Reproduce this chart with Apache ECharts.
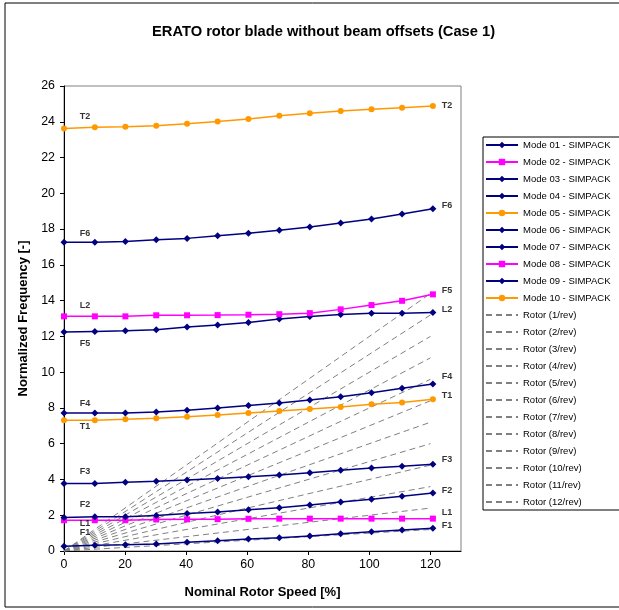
<!DOCTYPE html>
<html>
<head>
<meta charset="utf-8">
<script src="https://cdn.jsdelivr.net/npm/echarts@6/dist/echarts.min.js"></script>
<style>
html, body { margin: 0; padding: 0; background: #fff; }
#chart { width: 619px; height: 610px; }
</style>
</head>
<body>
<div id="chart"></div>
<script>
// nominal rotor speed [%] of each computed point
var speeds = [0, 10.1, 20.1, 30.2, 40.3, 50.3, 60.4, 70.5, 80.5, 90.6, 100.7, 110.7, 120.8];

// normalized frequencies, SIMPACK modes
var mode01 = [0.26, 0.32, 0.35, 0.39, 0.49, 0.58, 0.67, 0.74, 0.84, 0.97, 1.08, 1.17, 1.27];
var mode02 = [1.72, 1.72, 1.72, 1.76, 1.77, 1.78, 1.80, 1.81, 1.81, 1.81, 1.81, 1.81, 1.81];
var mode03 = [1.88, 1.92, 1.92, 1.99, 2.09, 2.18, 2.31, 2.42, 2.57, 2.74, 2.89, 3.06, 3.24];
var mode04 = [3.78, 3.78, 3.84, 3.90, 3.97, 4.06, 4.15, 4.25, 4.38, 4.51, 4.64, 4.74, 4.85];
var mode05 = [7.31, 7.31, 7.36, 7.42, 7.51, 7.60, 7.72, 7.83, 7.94, 8.05, 8.20, 8.31, 8.48];
var mode06 = [7.72, 7.72, 7.72, 7.77, 7.87, 8.00, 8.14, 8.28, 8.44, 8.63, 8.85, 9.10, 9.34];
var mode07 = [12.24, 12.28, 12.32, 12.37, 12.52, 12.64, 12.78, 12.97, 13.11, 13.23, 13.29, 13.29, 13.33];
var mode08 = [13.12, 13.12, 13.12, 13.18, 13.18, 13.19, 13.21, 13.24, 13.30, 13.51, 13.75, 13.99, 14.35];
var mode09 = [17.26, 17.26, 17.31, 17.41, 17.48, 17.63, 17.76, 17.93, 18.12, 18.34, 18.56, 18.84, 19.14];
var mode10 = [23.63, 23.69, 23.72, 23.78, 23.89, 24.02, 24.15, 24.34, 24.47, 24.60, 24.70, 24.79, 24.88];

var modeNames = ['Mode 01 - SIMPACK', 'Mode 02 - SIMPACK', 'Mode 03 - SIMPACK', 'Mode 04 - SIMPACK',
	'Mode 05 - SIMPACK', 'Mode 06 - SIMPACK', 'Mode 07 - SIMPACK', 'Mode 08 - SIMPACK',
	'Mode 09 - SIMPACK', 'Mode 10 - SIMPACK'];
var modeValues = [mode01, mode02, mode03, mode04, mode05, mode06, mode07, mode08, mode09, mode10];
var modeKinds = ['flap', 'lag', 'flap', 'flap', 'torsion', 'flap', 'flap', 'lag', 'flap', 'torsion'];

// rotor harmonics: line from 0 % to 120 % speed
var rotorNames = ['Rotor (1/rev)', 'Rotor (2/rev)', 'Rotor (3/rev)', 'Rotor (4/rev)', 'Rotor (5/rev)',
	'Rotor (6/rev)', 'Rotor (7/rev)', 'Rotor (8/rev)', 'Rotor (9/rev)', 'Rotor (10/rev)',
	'Rotor (11/rev)', 'Rotor (12/rev)'];
var rotorSpeeds = [0, 120];
var rotorEnds = [1.2, 2.4, 3.6, 4.8, 6.0, 7.2, 8.4, 9.6, 10.8, 12.0, 13.2, 14.4];

// mode tags written next to the curves [text, speed, frequency]
var leftTags = [['T2', 6.9, 24.28], ['F6', 6.9, 17.74], ['L2', 6.9, 13.72], ['F5', 6.9, 11.59],
	['F4', 6.9, 8.22], ['T1', 6.9, 6.95], ['F3', 6.9, 4.47], ['F2', 6.9, 2.61],
	['L1', 6.9, 1.55], ['F1', 6.9, 1.02]];
var rightTags = [['T2', 123.7, 24.9], ['F6', 123.7, 19.29], ['F5', 123.7, 14.55], ['L2', 123.7, 13.51],
	['F4', 123.7, 9.78], ['T1', 123.7, 8.67], ['F3', 123.7, 5.09], ['F2', 123.7, 3.37],
	['L1', 123.7, 2.16], ['F1', 123.7, 1.41]];

var xTicks = [0, 20, 40, 60, 80, 100, 120];

var FONT = 'Arial, "Liberation Sans", sans-serif';

var kindStyle = {
	flap: { color: '#000080', symbol: 'diamond', size: 7 },
	lag: { color: '#FF00FF', symbol: 'rect', size: 6 },
	torsion: { color: '#FF9900', symbol: 'circle', size: 6 }
};

var series = [];

for (var r = 0; r < rotorNames.length; r++) {
	series.push({
		name: rotorNames[r],
		type: 'line',
		data: [[rotorSpeeds[0], 0], [rotorSpeeds[1], rotorEnds[r]]],
		showSymbol: false,
		symbol: 'none',
		color: '#808080',
		lineStyle: { color: '#808080', width: 1, type: [6, 4] },
		z: 1,
		silent: true
	});
}

for (var m = 0; m < modeNames.length; m++) {
	var st = kindStyle[modeKinds[m]];
	var pts = [];
	for (var i = 0; i < speeds.length; i++) {
		pts.push([speeds[i], modeValues[m][i]]);
	}
	series.push({
		name: modeNames[m],
		type: 'line',
		data: pts,
		symbol: st.symbol,
		symbolSize: st.size,
		color: st.color,
		itemStyle: { color: st.color },
		lineStyle: { color: st.color, width: 1.5 },
		z: 3
	});
}

function tagSeries(tags, align) {
	return {
		type: 'scatter',
		symbolSize: 0,
		silent: true,
		z: 4,
		data: tags.map(function (t) { return { name: t[0], value: [t[1], t[2]] }; }),
		label: {
			show: true,
			position: [0, 0],
			align: align,
			verticalAlign: 'middle',
			formatter: '{b}',
			fontFamily: FONT,
			fontWeight: 'bold',
			fontSize: 9,
			color: '#000'
		}
	};
}
series.push(tagSeries(leftTags, 'center'));
series.push(tagSeries(rightTags, 'left'));

// legend entries: rotor lines show only their dashes
var legendData = modeNames.slice();
rotorNames.forEach(function (n) {
	legendData.push({ name: n, itemStyle: { opacity: 0 } });
});

var chart = echarts.init(document.getElementById('chart'));

chart.setOption({
	animation: false,
	backgroundColor: '#fff',
	title: {
		text: 'ERATO rotor blade without beam offsets (Case 1)',
		left: 152,
		top: 24,
		padding: 0,
		textStyle: { fontFamily: FONT, fontSize: 14.7, fontWeight: 'bold', color: '#000' }
	},
	legend: {
		orient: 'vertical',
		left: 483,
		top: 137,
		padding: [3, 40, 3, 2],
		borderColor: '#000',
		borderWidth: 1,
		itemWidth: 32,
		itemHeight: 8,
		itemGap: 7,
		data: legendData,
		textStyle: { fontFamily: FONT, fontSize: 9.5, color: '#000' }
	},
	graphic: [{
		type: 'rect',
		shape: { x: 5, y: 3, width: 700, height: 604 },
		style: { fill: 'none', stroke: '#000', lineWidth: 1 },
		silent: true,
		z: -10
	}],
	grid: {
		left: 64,
		top: 86,
		right: 158,
		bottom: 59,
		show: true,
		borderColor: '#808080',
		borderWidth: 1,
		containLabel: false
	},
	xAxis: {
		type: 'value',
		min: 0,
		max: 130,
		name: 'Nominal Rotor Speed [%]',
		nameLocation: 'middle',
		nameGap: 35,
		nameTextStyle: { fontFamily: FONT, fontSize: 13, fontWeight: 'bold', color: '#000' },
		axisLine: { show: true, lineStyle: { color: '#000', width: 1 } },
		axisTick: { show: true, inside: false, length: 4, customValues: xTicks, lineStyle: { color: '#000' } },
		axisLabel: { customValues: xTicks, margin: 8, fontFamily: FONT, fontSize: 12.4, color: '#000' },
		splitLine: { show: false }
	},
	yAxis: {
		type: 'value',
		min: 0,
		max: 26,
		interval: 2,
		name: 'Normalized Frequency [-]',
		nameLocation: 'middle',
		nameGap: 31,
		nameTextStyle: { fontFamily: FONT, fontSize: 13, fontWeight: 'bold', color: '#000' },
		axisLine: { show: true, lineStyle: { color: '#000', width: 1 } },
		axisTick: { show: true, inside: false, length: 4, lineStyle: { color: '#000' } },
		axisLabel: { margin: 9, fontFamily: FONT, fontSize: 12.4, color: '#000' },
		splitLine: { show: false }
	},
	series: series
});
</script>
</body>
</html>
